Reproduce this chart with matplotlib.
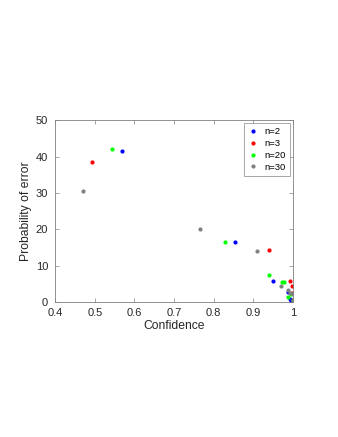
import matplotlib.pyplot as plt

plt.rcParams['font.family'] = ['Liberation Sans', 'DejaVu Sans']

# confidence / probability of error for each n
conf_n2 = [0.568, 0.853, 0.950, 0.987, 0.992, 0.996, 0.999]
err_n2 = [41.6, 16.5, 5.9, 2.8, 0.7, 0.2, 0.0]
conf_n3 = [0.494, 0.939, 0.993, 0.997, 0.998, 1.0]
err_n3 = [38.5, 14.3, 5.9, 4.4, 2.5, 0.6]
conf_n20 = [0.543, 0.828, 0.940, 0.973, 0.976, 0.988, 0.994, 1.0]
err_n20 = [42.2, 16.5, 7.4, 5.4, 5.5, 1.3, 2.3, 0.5]
conf_n30 = [0.471, 0.765, 0.910, 0.969, 0.988, 0.992, 0.999, 1.0]
err_n30 = [30.5, 20.0, 13.9, 4.3, 3.4, 2.5, 2.3, 0.6]

series = [
    ('n=2', conf_n2, err_n2, '#0000ff'),
    ('n=3', conf_n3, err_n3, '#ff0000'),
    ('n=20', conf_n20, err_n20, '#00ff00'),
    ('n=30', conf_n30, err_n30, '#808080'),
]

fig = plt.figure(figsize=(3.38, 4.37), dpi=100)
ax = fig.add_axes([0.163, 0.309, 0.704, 0.416])

for label, x, y, c in series:
    ax.plot(x, y, '.', color=c, markersize=4, label=label)

ax.set_xlim(0.4, 1.0)
ax.set_ylim(0, 50)
ax.set_xticks([0.4, 0.5, 0.6, 0.7, 0.8, 0.9, 1.0])
ax.set_xticklabels(['0.4', '0.5', '0.6', '0.7', '0.8', '0.9', '1'])
ax.set_yticks([0, 10, 20, 30, 40, 50])
ax.set_xlabel('Confidence', fontsize=8.7, color='#262626', labelpad=2)
ax.set_ylabel('Probability of error', fontsize=8.7, color='#262626', labelpad=3)

for s in ax.spines.values():
    s.set_color('#808080')
    s.set_linewidth(0.6)
ax.tick_params(direction='in', top=True, right=True, length=3, width=0.5,
               colors='#808080', labelcolor='#262626', labelsize=8)
ax.tick_params(axis='x', pad=4)
ax.tick_params(axis='y', pad=5)

leg = ax.legend(loc='upper right', fontsize=6.8, frameon=True, fancybox=False,
                handlelength=1.2, handletextpad=0.6, borderpad=0.4,
                labelspacing=0.3, borderaxespad=0.35)
leg.get_frame().set_edgecolor('#808080')
leg.get_frame().set_linewidth(0.6)

fig.savefig('out.png', dpi=100)
